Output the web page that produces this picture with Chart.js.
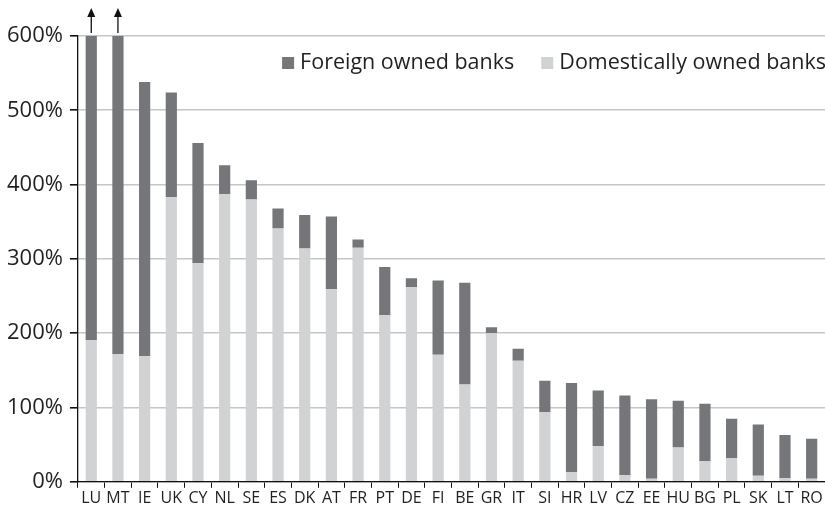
<!DOCTYPE html>
<html>
<head>
<meta charset="utf-8">
<script src="https://cdn.jsdelivr.net/npm/chart.js@4/dist/chart.umd.min.js"></script>
<style>
  html, body { margin: 0; padding: 0; background: #fff; }
  #wrap { width: 825px; height: 514px; }
</style>
</head>
<body>
<div id="wrap"><canvas id="grafico"></canvas></div>
<script>
// Dados (% do PIB)
const paises = ['LU','MT','IE','UK','CY','NL','SE','ES','DK','AT','FR','PT','DE','FI','BE','GR','IT','SI','HR','LV','CZ','EE','HU','BG','PL','SK','LT','RO'];
const domesticos = [191, 172, 169, 383, 294, 387, 380, 341, 314, 259, 315, 224, 262, 171, 131, 200, 163, 94, 13, 48, 9, 4, 46, 28, 32, 8, 5, 4];
// LU e MT passam de 600% (setas): corta no topo do eixo
const estrangeiros = [409, 428, 369, 141, 162, 39, 26, 27, 45, 98, 11, 65, 12, 100, 137, 8, 16, 42, 120, 75, 107, 107, 63, 77, 53, 69, 58, 54];
const foraDaEscala = ['LU', 'MT'];
const ticksY = [0, 100, 200, 300, 400, 500, 600];

const fonte = "'Open Sans', 'Noto Sans', sans-serif";

// Setas para as barras que passam do topo
const setas = {
  id: 'setas',
  afterDatasetsDraw(chart) {
    const ctx = chart.ctx;
    const meta = chart.getDatasetMeta(1);
    const topo = chart.chartArea.top;
    ctx.save();
    ctx.strokeStyle = '#111';
    ctx.fillStyle = '#111';
    ctx.lineWidth = 1.3;
    foraDaEscala.forEach(p => {
      const x = meta.data[paises.indexOf(p)].x;
      ctx.beginPath();
      ctx.moveTo(x, topo - 3);
      ctx.lineTo(x, topo - 22);
      ctx.stroke();
      ctx.beginPath();
      ctx.moveTo(x, topo - 28);
      ctx.lineTo(x - 4, topo - 19);
      ctx.lineTo(x + 4, topo - 19);
      ctx.closePath();
      ctx.fill();
    });
    ctx.restore();
  }
};

// Legenda dentro da área do gráfico, alinhada à direita
const legenda = {
  id: 'legenda',
  afterDraw(chart) {
    const ctx = chart.ctx;
    const itens = chart.data.datasets.slice().reverse();
    const y = chart.chartArea.top + 27;
    ctx.save();
    ctx.font = '21.5px ' + fonte;
    ctx.textBaseline = 'middle';
    let x = chart.width + 1;
    const pos = [];
    for (let i = itens.length - 1; i >= 0; i--) {
      const w = ctx.measureText(itens[i].label).width;
      x -= w;
      pos[i] = x;
      x -= 18 + 27;
    }
    itens.forEach((ds, i) => {
      ctx.fillStyle = ds.backgroundColor;
      ctx.fillRect(pos[i] - 18, y - 6, 12, 12);
      ctx.fillStyle = '#231f20';
      ctx.fillText(ds.label, pos[i], y);
    });
    ctx.restore();
  }
};

new Chart(document.getElementById('grafico'), {
  type: 'bar',
  data: {
    labels: paises,
    datasets: [
      {
        label: 'Domestically owned banks',
        data: domesticos,
        backgroundColor: '#d1d2d4',
        barPercentage: 0.42,
        categoryPercentage: 1,
      },
      {
        label: 'Foreign owned banks',
        data: estrangeiros,
        backgroundColor: '#75767a',
        barPercentage: 0.42,
        categoryPercentage: 1,
      },
    ],
  },
  options: {
    responsive: true,
    maintainAspectRatio: false,
    animation: false,
    layout: { padding: { top: 36, right: 0, bottom: 5, left: 0 } },
    plugins: {
      legend: { display: false },
      tooltip: { enabled: false },
    },
    scales: {
      x: {
        stacked: true,
        offset: true,
        grid: {
          offset: true,
          drawOnChartArea: false,
          drawTicks: true,
          tickLength: 6,
          tickColor: '#111',
        },
        border: { color: '#111', width: 1.3 },
        ticks: {
          color: '#231f20',
          font: { family: fonte, size: 16 },
          padding: 1,
          maxRotation: 0,
          autoSkip: false,
        },
      },
      y: {
        stacked: true,
        min: 0,
        max: 600,
        afterBuildTicks(axis) {
          axis.ticks = ticksY.map(v => ({ value: v }));
        },
        grid: {
          color: '#c6c6c8',
          lineWidth: 1.6,
          drawTicks: true,
          tickLength: 8,
          tickColor: '#111',
        },
        border: { color: '#111', width: 1.3 },
        ticks: {
          color: '#231f20',
          font: { family: fonte, size: 22 },
          padding: 7,
          callback: v => v + '%',
        },
      },
    },
  },
  plugins: [setas, legenda],
});
</script>
</body>
</html>
